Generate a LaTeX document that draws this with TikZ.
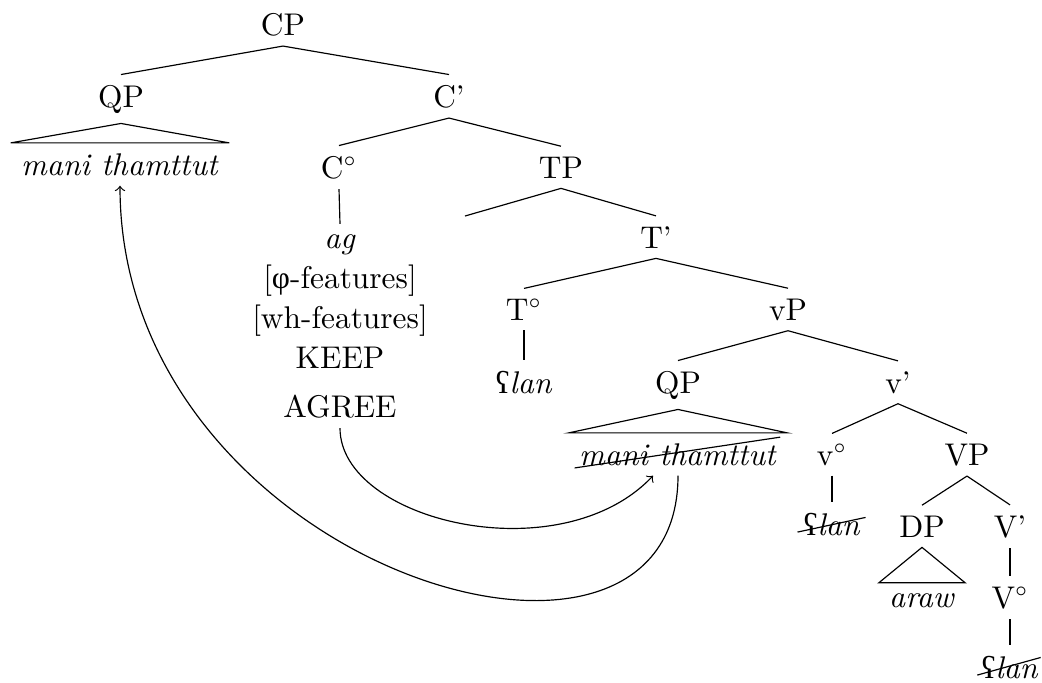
\documentclass[tikz,border=0pt]{standalone}
\usepackage{fontspec}
\usepackage{tikz}
\usetikzlibrary{positioning}
\newfontfamily\ipafont{Liberation Serif}
\newcommand{\ayn}{{\ipafont ʕ}}
\newcommand{\greekphi}{{\ipafont φ}}

\begin{document}
\begin{tikzpicture}[x=0.341pt,y=-0.341pt,
  every node/.style={anchor=base, font=\fontsize{10.7pt}{13pt}\selectfont}]
\useasboundingbox (0,0) rectangle (1042,682);
% CP layer
\node (cp) at (283,35) {CP};
\node (qpa) at (121,107) {QP};
\node (cbar) at (449,107) {C'};
\node (mta) at (120,175) {\textit{mani thamttut}};
\node (c0) at (339,178) {C$^\circ$};
\node (tp) at (561,178) {TP};
\coordinate (tspec) at (465,216);
% features on C
\node (ag) at (340,248) {\textit{ag}};
\node (phi) at (340,288) {[\greekphi-features]};
\node (wh) at (340,328) {[wh-features]};
\node (keep) at (340,368) {KEEP};
\node (agree) at (340,417) {AGREE};
% TP layer
\node (tbar) at (656,248) {T'};
\node (t0) at (524,320) {T$^\circ$};
\node (vp) at (788,320) {vP};
\node (tlan) at (524,393) {\ayn\textit{lan}};
\node (qpb) at (678,393) {QP};
\node (vbar) at (898,393) {v'};
\node (mtb) at (678,465) {\textit{mani thamttut}};
\node (v0) at (832,465) {v$^\circ$};
\node (bigvp) at (967,465) {VP};
\node (vlan) at (832,535) {\ayn\textit{lan}};
\node (dp) at (922,537) {DP};
\node (bigvbar) at (1010,537) {V'};
\node (araw) at (922,607) {\textit{araw}};
\node (bigv0) at (1010,608) {V$^\circ$};
\node (bigvlan) at (1010,678) {\ayn\textit{lan}};

\draw (cp.south) -- (qpa.north);
\draw (cp.south) -- (cbar.north);
\draw (qpa.south) -- (mta.north west) -- (mta.north east) -- cycle;
\draw (cbar.south) -- (c0.north);
\draw (cbar.south) -- (tp.north);
\draw (c0.south) -- (ag.north);
\draw (tp.south) -- (tspec);
\draw (tp.south) -- (tbar.north);
\draw (tbar.south) -- (t0.north);
\draw (tbar.south) -- (vp.north);
\draw (t0.south) -- (tlan.north);
\draw (vp.south) -- (qpb.north);
\draw (vp.south) -- (vbar.north);
\draw (qpb.south) -- (mtb.north west) -- (mtb.north east) -- cycle;
\draw (vbar.south) -- (v0.north);
\draw (vbar.south) -- (bigvp.north);
\draw (v0.south) -- (vlan.north);
\draw (bigvp.south) -- (dp.north);
\draw (bigvp.south) -- (bigvbar.north);
\draw (dp.south) -- (araw.north west) -- (araw.north east) -- cycle;
\draw (bigvbar.south) -- (bigv0.north);
\draw (bigv0.south) -- (bigvlan.north);

% struck-out copies
\draw ([xshift=2pt,yshift=-1pt]mtb.base west) -- ([xshift=-2.4pt,yshift=9.5pt]mtb.base east);
\draw ([xshift=1.4pt,yshift=1pt]vlan.base west) -- ([xshift=-1.7pt,yshift=6pt]vlan.base east);
\draw ([xshift=2pt,yshift=1pt]bigvlan.base west) -- ([xshift=-2.7pt,yshift=7pt]bigvlan.base east);

% agree and movement arrows
\draw[->] (agree.south) .. controls +(0,93) and +(-93,98) .. ([xshift=-8.5pt]mtb.south);
\draw[->] (mtb.south) .. controls +(0,260) and +(0,380) .. (mta.south);
\end{tikzpicture}
\end{document}
